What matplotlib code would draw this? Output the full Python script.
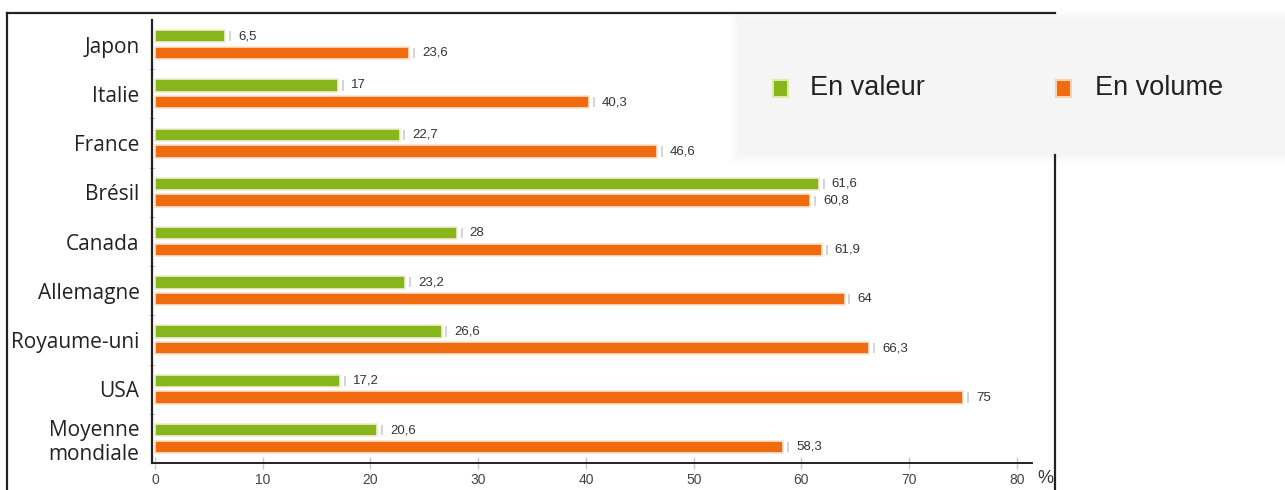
import matplotlib
matplotlib.use("Agg")
from matplotlib import pyplot as plt
from matplotlib.patches import Rectangle
from matplotlib.lines import Line2D
import numpy as np

# data, top to bottom
countries = ["Japon", "Italie", "France", "Brésil", "Canada", "Allemagne",
             "Royaume-uni", "USA", "Moyenne\nmondiale"]
en_valeur = [6.5, 17, 22.7, 61.6, 28, 23.2, 26.6, 17.2, 20.6]
en_volume = [23.6, 40.3, 46.6, 60.8, 61.9, 64, 66.3, 75, 58.3]
x_ticks = [0, 10, 20, 30, 40, 50, 60, 70, 80]

green = "#86b51c"
orange = "#f06a10"

W, H = 1285, 490
fig = plt.figure(figsize=(W / 100, H / 100), dpi=100)
fig.patch.set_facecolor("white")

# axes placement in pixels
ax_left, ax_right, ax_top, ax_bottom = 152, 1032, 20, 463
ax = fig.add_axes([ax_left / W, (H - ax_bottom) / H,
                   (ax_right - ax_left) / W, (ax_bottom - ax_top) / H])
ax.set_facecolor("none")

ypos = np.arange(len(countries))
bh = 0.25
off = 0.17

ax.barh(ypos - off, en_valeur, height=bh, color=green,
        edgecolor="#f3ecd2", linewidth=1.2, zorder=3)
ax.barh(ypos + off, en_volume, height=bh, color=orange,
        edgecolor="#f7e3cc", linewidth=1.2, zorder=3)

def fmt(v):
    s = f"{v:g}"
    return s.replace(".", ",")

for y, v in zip(ypos, en_valeur):
    ax.vlines(v + 0.45, y - off - bh / 2.4, y - off + bh / 2.4, color="#d4d4d4", lw=1.4, zorder=2)
    ax.text(v + 1.2, y - off, fmt(v), va="center", ha="left",
            fontsize=9.5, color="#333333", family="Liberation Sans")
for y, v in zip(ypos, en_volume):
    ax.vlines(v + 0.45, y + off - bh / 2.4, y + off + bh / 2.4, color="#d4d4d4", lw=1.4, zorder=2)
    ax.text(v + 1.2, y + off, fmt(v), va="center", ha="left",
            fontsize=9.5, color="#333333", family="Liberation Sans")

ax.set_xlim(-0.28, 81.4)
ax.set_ylim(8.5, -0.5)

ax.set_xticks(x_ticks)
ax.set_xticklabels([str(t) for t in x_ticks], fontsize=10, color="#444444",
                   family="Liberation Sans")
ax.tick_params(axis="x", direction="inout", length=9, width=1,
               color="#c8c8c8", pad=3)

ax.set_yticks(ypos)
ax.set_yticklabels(countries, fontsize=15, color="#222222", family="Open Sans",
                   linespacing=1.2)
ax.tick_params(axis="y", length=0, pad=9)
ax.set_yticks(ypos[:-1] + 0.5, minor=True)
ax.tick_params(axis="y", which="minor", direction="inout", length=5,
               color="#bbbbbb")

for s in ["top", "right"]:
    ax.spines[s].set_visible(False)
ax.spines["left"].set_color("#222222")
ax.spines["left"].set_linewidth(1.6)
ax.spines["bottom"].set_color("#222222")
ax.spines["bottom"].set_linewidth(1.4)

fig.text(1037 / W, (H - 478) / H, "%", fontsize=13, color="#333333",
         ha="left", va="center", family="Liberation Sans")

# outer frame (right side hidden behind the legend box at the top)
fx0, fx1, fy0 = 7 / W, 1055 / W, (H - 13) / H
fig.add_artist(Line2D([fx0, fx0], [0, fy0], color="#222222", lw=1.6, zorder=8))
fig.add_artist(Line2D([fx0, fx1], [fy0, fy0], color="#222222", lw=1.6, zorder=8))
fig.add_artist(Line2D([fx1, fx1], [0, (H - 155) / H], color="#222222", lw=1.6, zorder=8))

# legend box with a soft edge
for k, a in enumerate([0.2, 0.35, 0.6, 1.0]):
    pad = (3 - k) * 3
    fig.add_artist(Rectangle(((738 - pad) / W, (H - 154 - pad) / H),
                             (560 + 2 * pad) / W, (136 + 2 * pad) / H,
                             facecolor="#f5f5f5", edgecolor="none", alpha=a, zorder=5))
fig.add_artist(Rectangle((773 / W, (H - 97) / H), 15 / W, 17 / H,
                         facecolor=green, edgecolor="#dfe9a8", lw=1.5, zorder=6))
fig.text(810 / W, (H - 88) / H, "En valeur", fontsize=19.5, color="#222222",
         ha="left", va="center", family="Liberation Sans", zorder=7)
fig.add_artist(Rectangle((1056 / W, (H - 97) / H), 15 / W, 17 / H,
                         facecolor=orange, edgecolor="#f8d2b0", lw=1.5, zorder=6))
fig.text(1095 / W, (H - 88) / H, "En volume", fontsize=19.5, color="#222222",
         ha="left", va="center", family="Liberation Sans", zorder=7)

fig.savefig("out.png", dpi=100)
